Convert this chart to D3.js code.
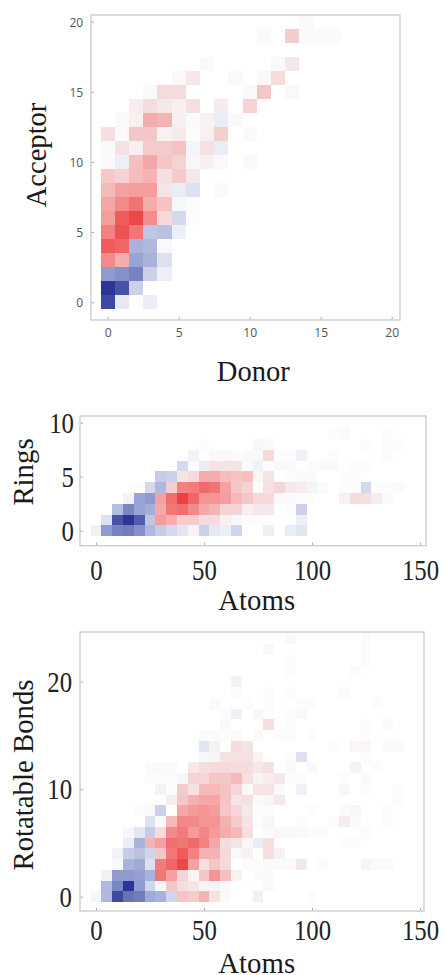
<!DOCTYPE html>
<html>
<head>
<meta charset="utf-8">
<script src="https://cdn.jsdelivr.net/npm/d3@7"></script>
<style>
  html, body { margin: 0; padding: 0; background: #fff; overflow: hidden; }
  svg { display: block; }
</style>
</head>
<body>
<div id="chart"></div>
<script>
// signed intensity, blue (-100) to red (100), rows go from y = 0 upward, 0 = empty cell
const donorValues = d3.range(0, 17);
const acceptorValues = d3.range(0, 21);
const acceptorDonor = [
  [-90, -10, 0, -8],
  [-100, -85, -22],
  [-50, -55, -62, -22, -7],
  [60, 42, -45, -38, -14],
  [85, 80, -38, -35, -2],
  [65, 90, 70, -28, -30, -7],
  [50, 85, 95, 58, 18, -18, 1],
  [45, 60, 72, 42, 30, -3, 1],
  [35, 48, 50, 50, 12, -8, -14, 0, 2],
  [27, 22, 33, 38, 15, 26, 10],
  [2, -7, 32, 45, 28, 22, 4, 7, 3, 0, 3],
  [2, 14, 7, 26, 26, 30, -4, 14, -8],
  [15, 2, 28, 28, 6, 9, 1, 6, 24, 0, 2],
  [0, 3, 7, 42, 38, 7, 2, 6, -8, 2],
  [0, 0, 8, 16, 10, 7, 15, 0, 9, 0, 22],
  [0, 0, 0, 2, 17, 17, 0, 0, 0, 0, 3, 28, 0, 3],
  [0, 0, 0, 0, 0, 3, 10, 0, 0, 3, 0, 3, 16],
  [0, 0, 0, 0, 0, 0, 0, 2, 0, 0, 0, 0, 3, 10],
  [],
  [0, 0, 0, 0, 0, 0, 0, 0, 0, 0, 0, 3, 0, 25, 2, 2, 2],
  [0, 0, 0, 0, 0, 0, 0, 0, 0, 0, 0, 0, 0, 0, 3]
];

const atomBins = d3.range(0, 145, 5);
const ringValues = d3.range(0, 10);
const ringsAtoms = [
  [-6, -50, -62, -65, -55, -35, -25, -18, -12, 5, -22, -10, -7, -20, 0, 0, -7, 0, -8, -12],
  [0, -14, -85, -100, -80, -28, 50, 42, 25, 25, 17, 17, 6, -3, 1, 1, 0, 0, 0, -7],
  [0, 0, -32, -60, -45, -40, 45, 70, 75, 60, 45, 38, 22, 22, 7, 10, 10, 0, 1, -22],
  [0, 0, 0, -5, -45, -50, 48, 75, 100, 80, 55, 55, 50, 35, 28, 18, 18, 3, 2, 1, 1, 0, 0, 6, 17, 15, 8, 3],
  [0, 0, 0, 0, 1, -18, -35, 24, 65, 68, 78, 72, 48, 28, 22, 1, 14, 20, 10, 8, -4, 2, 0, 1, 1, -18, 1, 1, 2],
  [0, 0, 0, 0, 0, 0, -25, -22, 12, 18, 42, 42, 33, 30, 32, 4, 12, 0, 1, 2, 2, 0, 0, 1, 1],
  [0, 0, 0, 0, 0, 0, 0, 0, -18, -1, -8, 12, 12, 12, 2, -6, 1, 3, 3, 0, 1, 2, 2, 0, 1, 1],
  [0, 0, 0, 0, 0, 0, 0, 0, 0, -5, 0, 3, 3, 1, 3, 3, 18, 1, 1, -6, 0, 0, 1, 0, 0, 0, 0, 1],
  [0, 0, 0, 0, 0, 0, 0, 0, 0, 0, 1, 0, 0, 0, 0, -3, 2, 0, 0, 0, 0, 0, 0, 0, 0, 1, 0, 1, 1],
  [0, 0, 0, 0, 0, 0, 0, 0, 0, 0, 0, 0, 0, 0, 0, 0, 0, 0, 0, 0, 0, 0, 1, 2, 0, 0, 0, 1]
];

const bondValues = d3.range(0, 25);
const bondsAtoms = [
  [-3, -35, -90, -70, -65, -42, -38, -20, 30, 25, 38, 14, -2, 0, 0, -6, 0, 0, 0, 0, 1],
  [0, -35, -60, -100, -50, -20, -3, 28, 16, 12, 5, 5, 2, 0, 0, 0, -2],
  [0, -6, -50, -50, -48, -38, 70, 48, 20, 5, 28, 55, 32, 6, 0, -1, -2],
  [0, 0, -2, -38, -42, -15, 68, 80, 95, 48, 15, 28, 18, 0, 1, 1, 2, 2, 2, 10, 0, 1, 0, 0, 0, 5, 2, 2],
  [0, 0, -5, -25, -30, -20, 28, 70, 85, 65, 40, 38, 18, 3, 6, 0, 15, 6],
  [0, 0, 0, -8, -38, 38, 48, 75, 70, 78, 65, 45, 16, 12, 3, -8, 15, 0, 0, 0, 0, 0, 0, 1, 1],
  [0, 0, 0, -3, -12, -25, 16, 60, 68, 52, 62, 52, 42, 35, 15, 0, 2, 3, 3, 2, 1, 1, 0, 0, 0, 1],
  [0, 0, 0, 0, 0, -14, 3, 35, 62, 60, 55, 55, 40, 25, 12, 1, 4, 0, 0, 1, 0, 0, 1, 8, 2, 0, 0, 1],
  [0, 0, 0, 0, 1, 2, -22, 0, 45, 52, 55, 50, 28, 20, 10, 1, 1, 0, 0, 0, 1, 0, 0, 2, 4, 0, 0, 1],
  [0, 0, 0, 0, 0, 0, 0, 8, 28, 40, 45, 45, 30, 12, 15, 2, 4, 10, 0, 0, 0, 0, 0, 0, 0, 0, 0, 0, 1],
  [0, 0, 0, 0, 0, 0, -5, 1, 26, 14, 35, 35, 30, 20, 3, 12, 12, 3, 0, -6, 0, 0, 0, 4, 0, 1, 0, 0, 1],
  [0, 0, 0, 0, 0, 1, 1, -1, -3, 22, 20, 28, 28, 35, 14, 5, 8, 10, 1, -1, 0, 0, 0, 1, 0, 2],
  [0, 0, 0, 0, 0, 2, 2, 2, 0, 10, 16, 18, 18, 16, 16, 10, 14, 0, 2, 0, -2, 0, 0, 0, 6, 0, 1],
  [0, 0, 0, 0, 0, 0, 0, 0, 0, 0, -3, 5, 14, 14, 14, 5, 0, 0, 1, -14, 0, 0, 0, 0, 0, 1],
  [0, 0, 0, 0, 0, 0, 0, 0, 0, 0, -12, 6, 0, 16, 12, 0, 0, 0, 0, 0, 0, 0, 1, 0, 4, 4, 0, 2, 2],
  [0, 0, 0, 0, 0, 0, 0, 0, 0, 0, -1, -1, 1, 2, 0, 2, 0, 1, 1, 0, 1, 0, 0, 0, 0, 1],
  [0, 0, 0, 0, 0, 0, 0, 0, 0, 0, 0, 0, -2, 0, 0, 0, 15, 0, 1, 0, 0, 0, 0, 0, 0, 1, 0, 2],
  [0, 0, 0, 0, 0, 0, 0, 0, 0, 0, 0, 0, -1, -6, 0, 4, 1, 0, 1, -2],
  [0, 0, 0, 0, 0, 0, 0, 0, 0, 0, 0, -2, 0, 0, 1, 0, 1, 0, 0, 1, 1, 0, 0, 0, 0, 0, 1],
  [0, 0, 0, 0, 0, 0, 0, 0, 0, 0, 0, 0, 0, -1, 0, 0, 1, 0, 1, 0, 0, 0, 0, -1],
  [0, 0, 0, 0, 0, 0, 0, 0, 0, 0, 0, 0, 0, -5],
  [0, 0, 0, 0, 0, 0, 0, 0, 0, 0, 0, 0, 0, 0, 0, 0, 0, 0, 1, 0, 0, 0, 0, 0, -1],
  [0, 0, 0, 0, 0, 0, 0, 0, 0, 0, 0, 0, 0, 0, 0, 0, 0, 0, 1, 0, 0, 0, 0, 0, 0, -1],
  [0, 0, 0, 0, 0, 0, 0, 0, 0, 0, 0, 0, 0, 0, 0, 0, -2, 0, 0, 0, 0, 0, 0, 0, 0, -1],
  [0, 0, 0, 0, 0, 0, 0, 0, 0, 0, 0, 0, 0, 0, 0, 0, 0, 0, -2, 0, 0, 0, 0, 0, 0, -1]
];

const donorTicks = [0, 5, 10, 15, 20];
const acceptorTicks = [0, 5, 10, 15, 20];
const atomTicks = [0, 50, 100, 150];
const ringTicks = [0, 5, 10];
const bondTicks = [0, 10, 20];

const color = d3.scaleLinear()
  .domain([-100, -50, -1, 0, 1, 10, 50, 100])
  .range(["#2a3596", "#8f9acf", "#fafbfc", "#ffffff", "#fcfcfc", "#f5e8ea", "#f59d9d", "#ec3f3f"]);

const svg = d3.select("#chart")
  .append("svg")
  .attr("width", 446)
  .attr("height", 975);

const sans = "'Open Sans', sans-serif";
const serif = "'Liberation Serif', serif";

const panels = [
  {
    matrix: acceptorDonor, xs: donorValues, ys: acceptorValues,
    xDomain: [0, 20], yDomain: [0, 20],
    xRange: [107.7, 391.7], yRange: [302.3, 21.7],
    xStep: 1, box: { left: 91, right: 400, top: 15, bottom: 320 },
    xTicks: donorTicks, yTicks: acceptorTicks,
    tickFont: sans, tickSize: 13.5, tickStretch: 0.9, tickColor: "#555", xPad: 7.7, yPad: 7.7,
    xLabel: "Donor", yLabel: "Acceptor",
    xLabelPos: [253.3, 380.7], yLabelPos: [46, 155], labelSize: 28.6
  },
  {
    matrix: ringsAtoms, xs: atomBins, ys: ringValues,
    xDomain: [0, 150], yDomain: [0, 10],
    xRange: [96, 420], yRange: [530.7, 422.7],
    xStep: 5, box: { left: 80, right: 426, top: 416, bottom: 545.7 },
    xTicks: atomTicks, yTicks: ringTicks,
    tickFont: serif, tickSize: 29.5, tickStretch: 0.84, tickColor: "#222", xPad: 13.3, yPad: 6,
    xLabel: "Atoms", yLabel: "Rings",
    xLabelPos: [256.7, 609.5], yLabelPos: [33.3, 472], labelSize: 28.8
  },
  {
    matrix: bondsAtoms, xs: atomBins, ys: bondValues,
    xDomain: [0, 150], yDomain: [0, 20],
    xRange: [96, 420], yRange: [896.7, 681.7],
    xStep: 5, box: { left: 80, right: 424, top: 632, bottom: 911 },
    xTicks: atomTicks, yTicks: bondTicks,
    tickFont: serif, tickSize: 29.5, tickStretch: 0.84, tickColor: "#222", xPad: 8, yPad: 8,
    xLabel: "Atoms", yLabel: "Rotatable Bonds",
    xLabelPos: [256.7, 973], yLabelPos: [33.3, 775], labelSize: 28.8
  }
];

const drawPanel = p => {
  const x = d3.scaleLinear().domain(p.xDomain).range(p.xRange);
  const y = d3.scaleLinear().domain(p.yDomain).range(p.yRange);
  const g = svg.append("g");

  const cells = [];
  p.matrix.forEach((row, r) => {
    row.forEach((v, c) => {
      if (v !== 0) cells.push({ x: p.xs[c], y: p.ys[r], v: v });
    });
  });

  // round the cell edges so neighbours share a pixel and no seams show
  const left = d => Math.round(x(d.x - p.xStep / 2));
  const right = d => Math.round(x(d.x + p.xStep / 2));
  const top = d => Math.round(y(d.y + 0.5));
  const bottom = d => Math.round(y(d.y - 0.5));

  g.append("g")
    .style("filter", "blur(0.5px)")
    .selectAll("rect")
    .data(cells)
    .enter()
    .append("rect")
    .attr("x", left)
    .attr("y", top)
    .attr("width", d => right(d) - left(d))
    .attr("height", d => bottom(d) - top(d))
    .attr("fill", d => color(d.v));

  // ticks point inward, frame is drawn after them
  const xAxis = g.append("g")
    .attr("transform", `translate(0, ${p.box.bottom})`)
    .call(d3.axisBottom(x).tickValues(p.xTicks).tickSize(-3).tickPadding(p.xPad));
  const yAxis = g.append("g")
    .attr("transform", `translate(${p.box.left}, 0)`)
    .call(d3.axisLeft(y).tickValues(p.yTicks).tickSize(-3).tickPadding(p.yPad));

  [xAxis, yAxis].forEach(axis => {
    axis.select(".domain").remove();
    axis.selectAll("line").attr("stroke", "#aaa");
    axis.selectAll("text")
      .style("font-family", p.tickFont)
      .style("font-size", p.tickSize + "px")
      .style("transform-box", "fill-box")
      .style("transform", `scaleX(${p.tickStretch})`)
      .attr("fill", p.tickColor);
  });
  xAxis.selectAll("text").style("transform-origin", "center");
  yAxis.selectAll("text").style("transform-origin", "right center");

  g.append("rect")
    .attr("x", p.box.left)
    .attr("y", p.box.top)
    .attr("width", p.box.right - p.box.left)
    .attr("height", p.box.bottom - p.box.top)
    .attr("fill", "none")
    .attr("stroke", "#cdcdcd")
    .attr("stroke-width", 1.4);

  g.append("text")
    .attr("x", p.xLabelPos[0])
    .attr("y", p.xLabelPos[1])
    .attr("text-anchor", "middle")
    .style("font-family", serif)
    .style("font-size", p.labelSize + "px")
    .attr("fill", "#1a1a1a")
    .text(p.xLabel);

  g.append("text")
    .attr("transform", `translate(${p.yLabelPos[0]}, ${p.yLabelPos[1]}) rotate(-90)`)
    .attr("text-anchor", "middle")
    .style("font-family", serif)
    .style("font-size", p.labelSize + "px")
    .attr("fill", "#1a1a1a")
    .text(p.yLabel);
};

panels.forEach(drawPanel);
</script>
</body>
</html>
